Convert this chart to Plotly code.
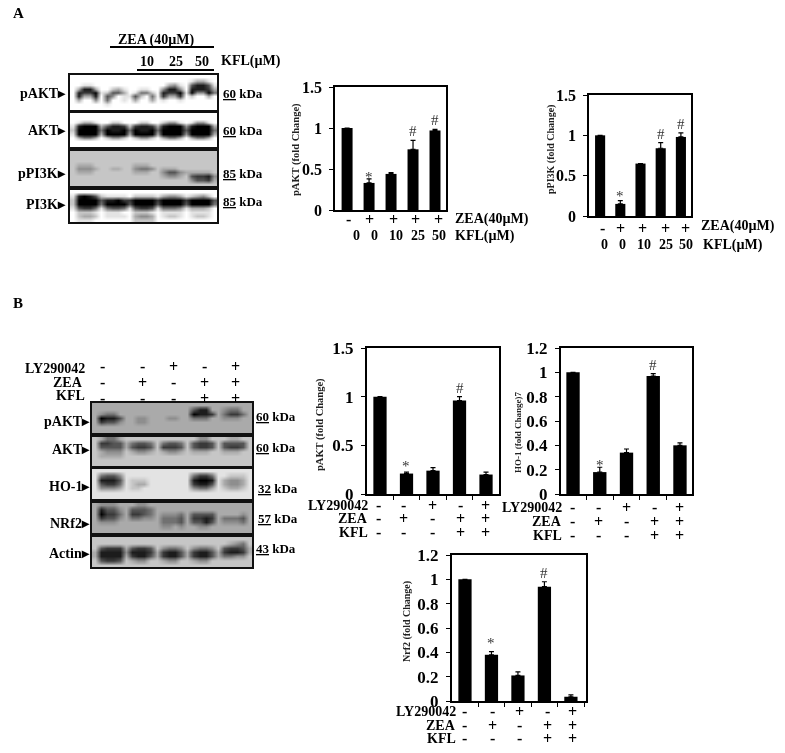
import plotly.graph_objects as go

W, H = 785, 753
SERIF = "Liberation Serif"

# ---------- chart data ----------
A1_VALUES = [1.0, 0.33, 0.44, 0.74, 0.97]
A1_ERRORS = [0.0, 0.05, 0.015, 0.11, 0.015]
A2_VALUES = [1.0, 0.15, 0.65, 0.84, 0.98]
A2_ERRORS = [0.0, 0.04, 0.0, 0.07, 0.05]
B1_VALUES = [1.0, 0.21, 0.24, 0.96, 0.20]
B1_ERRORS = [0.0, 0.015, 0.03, 0.04, 0.025]
B2_VALUES = [1.0, 0.18, 0.34, 0.97, 0.40]
B2_ERRORS = [0.0, 0.04, 0.03, 0.02, 0.02]
B3_VALUES = [1.0, 0.38, 0.21, 0.94, 0.035]
B3_ERRORS = [0.0, 0.025, 0.03, 0.04, 0.015]
A1_MARKS = ["", "*", "", "#", "#"]
A2_MARKS = ["", "*", "", "#", "#"]
B1_MARKS = ["", "*", "", "#", ""]
B2_MARKS = ["", "*", "", "#", ""]
B3_MARKS = ["", "*", "", "#", ""]
CATEGORIES = [0, 1, 2, 3, 4]
TICKS_15 = [0, 0.5, 1, 1.5]
LABELS_15 = ["0", "0.5", "1", "1.5"]
TICKS_12 = [0, 0.2, 0.4, 0.6, 0.8, 1, 1.2]
LABELS_12 = ["0", "0.2", "0.4", "0.6", "0.8", "1", "1.2"]
ZEA_A = ["-", "+", "+", "+", "+"]
KFL_A = ["0", "0", "10", "25", "50"]
LY_B = ["-", "-", "+", "-", "+"]
ZEA_B = ["-", "+", "-", "+", "+"]
KFL_B = ["-", "-", "-", "+", "+"]

# ---------- blot densities, one digit (0-9) per cell, top row first ----------
BLOT_A_PAKT = [
 "0 0000 0 0000 0 0000 0 0000 0 0000 0",
 "0 0000 0 0000 0 0000 0 0000 0 1331 0",
 "0 0110 0 0000 0 0000 0 0341 0 6886 1",
 "0 3883 0 0231 0 0110 0 4884 0 8887 3",
 "0 8779 1 2663 0 1552 0 8779 1 9449 5",
 "0 8338 0 6401 1 6205 0 7337 0 2003 0",
 "0 3004 0 5001 0 3003 0 1001 0 0000 0",
 "0 0000 0 1000 0 0000 0 0000 0 0000 0",
 "0 0000 0 0000 0 0000 0 0000 0 0000 0"]
BLOT_A_AKT = [
 "0 0000 0 0000 0 0000 0 0000 0 0000 0",
 "0 0000 0 0000 0 0000 0 0000 0 0000 0",
 "0 1331 0 0220 0 0220 0 2441 0 1441 0",
 "1 8999 3 6887 2 7887 3 8999 4 8999 3",
 "2 9999 5 9889 5 9889 5 9999 6 9999 5",
 "1 9999 3 9999 3 9999 3 9999 4 9999 3",
 "0 3553 0 2442 0 2442 0 3553 0 3553 0",
 "0 0000 0 0000 0 0000 0 0000 0 0000 0",
 "0 0000 0 0000 0 0000 0 0000 0 0000 0"]
BLOT_A_PPI3K = [
 "2 2222 2 2222 2 2222 2 2222 2 2222 2",
 "2 2222 2 2222 2 2222 2 2222 2 2222 2",
 "2 2222 2 2222 2 2222 2 2222 2 2222 2",
 "2 3332 2 2222 2 3332 2 2222 2 2222 2",
 "2 4443 2 2332 2 4554 2 3332 2 2222 2",
 "2 3332 2 2222 2 3332 2 4664 3 3333 2",
 "2 2222 2 2222 2 2222 2 3443 2 6778 4",
 "2 2222 2 2222 2 2222 2 2222 2 4667 3",
 "2 2222 2 2222 2 2222 2 2222 2 2222 2"]
BLOT_A_PI3K = [
 "0 0000 0 0000 0 0000 0 0000 0 0000 0",
 "1 8986 2 1111 0 2222 1 3443 1 2342 0",
 "2 9999 6 8897 7 9999 7 9999 7 9999 6",
 "2 9999 5 9999 6 9999 6 9999 6 9999 5",
 "1 6775 1 5665 1 6776 1 5554 1 3332 0",
 "0 2221 0 1110 0 2221 0 1111 0 1111 0",
 "0 2332 0 1111 0 3443 0 1221 0 1221 0",
 "0 1110 0 0000 0 2222 0 0000 0 0000 0"]
BLOT_B_PAKT = [
 "3 3333 3 3333 3 3333 3 3333 3 3333 3",
 "3 3333 3 3333 3 3333 3 6883 3 4553 3",
 "3 4553 3 3333 3 3333 3 9887 3 5775 3",
 "3 9886 3 3443 3 3443 3 5553 3 4443 3",
 "3 7664 3 3443 3 3333 3 3333 3 3333 3",
 "3 3333 3 3333 3 3333 3 3333 3 3333 3",
 "3 3333 3 3333 3 3333 3 3333 3 3333 3"]
BLOT_B_AKT = [
 "2 3553 2 2222 2 2222 2 2442 2 2332 2",
 "2 7766 3 5665 2 5665 2 6776 2 6666 2",
 "2 6666 3 6776 2 7776 2 6776 2 6776 2",
 "2 3444 2 3443 2 3443 2 3332 2 3332 2",
 "2 3333 2 2222 2 2222 2 2222 2 2222 2",
 "2 2222 2 2222 2 2222 2 2222 2 2222 2",
 "2 2222 2 2222 2 2222 2 2222 2 2222 2"]
BLOT_B_HO1 = [
 "1 1111 1 1111 1 1111 1 1111 1 1111 1",
 "1 5664 1 1111 1 1111 1 5775 1 1222 1",
 "1 8886 1 2221 1 1111 1 8998 1 3443 1",
 "1 6775 1 2331 1 1111 1 7886 1 3443 1",
 "1 4443 1 2211 1 1111 1 4553 1 2332 1",
 "1 1111 1 1111 1 1111 1 1111 1 1111 1",
 "1 1111 1 1111 1 1111 1 1111 1 1111 1"]
BLOT_B_NRF2 = [
 "3 4443 3 3443 3 3333 3 3333 3 3333 3",
 "3 8664 3 6665 3 3333 3 3333 3 3333 3",
 "3 9775 3 7765 3 4445 3 6666 3 3334 3",
 "3 7664 3 5544 3 5556 3 7787 3 5556 3",
 "3 4443 3 3333 3 5556 3 6686 3 4445 3",
 "3 3333 3 3333 3 4434 3 3443 3 3333 3",
 "3 3333 3 3333 3 3333 3 3333 3 3333 3"]
BLOT_B_ACTIN = [
 "2 2222 2 2222 2 2222 2 2222 2 2222 2",
 "2 2222 2 2222 2 2222 2 2222 2 2345 2",
 "2 6777 3 6776 2 4554 2 4554 2 6776 3",
 "3 8888 4 8887 3 7886 3 7886 3 7887 3",
 "3 8888 3 7886 3 7886 3 7886 3 5544 2",
 "2 6776 2 3442 2 3442 2 3442 2 2222 2",
 "2 2222 2 2222 2 2222 2 2222 2 2222 2"]

# ---------- helpers ----------
fig = go.Figure()
annotations, shapes, layout = [], [], {}
axis_no = 0


def place(x0, y0, x1, y1):
    global axis_no
    axis_no += 1
    return axis_no, [x0 / W, x1 / W], [1 - y1 / H, 1 - y0 / H]


def px_text(x, y, s, size=14, anchor="left", color="black", bold=True, angle=0):
    annotations.append(dict(
        x=x / W, y=1 - y / H, xref="paper", yref="paper", text=f"<b>{s}</b>" if bold else s,
        showarrow=False, xanchor=anchor, yanchor="middle", textangle=angle,
        font=dict(family=SERIF, size=size, color=color), borderpad=0))


def rule(x0, x1, y):
    shapes.append(dict(type="line", xref="paper", yref="paper", x0=x0 / W, x1=x1 / W,
                       y0=1 - y / H, y1=1 - y / H, line=dict(color="black", width=2)))


def bar_chart(rect, values, errors, marks, ticks, tick_labels, y_max, x_range,
              tick_size, boundary_ticks, star_shift=0, mark_size=15):
    n, xd, yd = place(*rect)
    fig.add_trace(go.Bar(
        x=CATEGORIES, y=values, width=0.5, marker=dict(color="black", line=dict(width=0)),
        error_y=dict(type="data", symmetric=False, array=errors, arrayminus=[0] * 5,
                     color="black", thickness=1.2, width=2.5),
        xaxis=f"x{n}", yaxis=f"y{n}", showlegend=False))
    xax = dict(domain=xd, anchor=f"y{n}", range=x_range, showline=True, mirror=True,
               linecolor="black", linewidth=1.5, showgrid=False, zeroline=False,
               showticklabels=False)
    if boundary_ticks:
        xax.update(tickmode="array", tickvals=[-0.5, 0.5, 1.5, 2.5, 3.5, 4.5],
                   ticks="outside", ticklen=4, tickcolor="black", tickwidth=1.2)
    else:
        xax.update(ticks="")
    layout[f"xaxis{n}"] = xax
    layout[f"yaxis{n}"] = dict(
        domain=yd, anchor=f"x{n}", range=[0, y_max], showline=True, mirror=True,
        linecolor="black", linewidth=1.5, showgrid=False, zeroline=False,
        tickmode="array", tickvals=ticks, ticktext=[f"<b>{t}</b>\u00a0" for t in tick_labels],
        ticks="outside", ticklen=4, tickcolor="black", tickwidth=1.2,
        tickfont=dict(family=SERIF, size=tick_size, color="black"))
    for c, v, e, m in zip(CATEGORIES, values, errors, marks):
        if m:
            annotations.append(dict(
                x=c, y=v + e, xref=f"x{n}", yref=f"y{n}", text=m, showarrow=False,
                xanchor="center", yanchor="bottom", borderpad=0,
                yshift=star_shift if m == "*" else 0,
                font=dict(family=SERIF, size=mark_size, color="#333333")))


def blot(rect, rows):
    n, xd, yd = place(*rect)
    z = [[int(ch) for ch in r.replace(" ", "")] for r in rows]
    fig.add_trace(go.Heatmap(
        z=z, zmin=0, zmax=9, zsmooth="best", showscale=False, hoverinfo="skip",
        colorscale=[[0, "#ffffff"], [1, "#000000"]], xaxis=f"x{n}", yaxis=f"y{n}"))
    common = dict(showline=True, mirror=True, linecolor="#111111", linewidth=1.5,
                  showgrid=False, zeroline=False, showticklabels=False, ticks="")
    layout[f"xaxis{n}"] = dict(domain=xd, anchor=f"y{n}", range=[-0.5, len(z[0]) - 0.5], **common)
    layout[f"yaxis{n}"] = dict(domain=yd, anchor=f"x{n}", range=[len(z) - 0.5, -0.5], **common)


def sign_row(xs, y, signs, size=16):
    for x, s in zip(xs, signs):
        px_text(x, y, s, size=size, anchor="center")


# ---------- bar charts ----------
bar_chart((335, 87, 446, 210), A1_VALUES, A1_ERRORS, A1_MARKS, TICKS_15, LABELS_15, 1.5,
          [-0.55, 4.5], 16, False, star_shift=-7)
bar_chart((589, 95, 691, 216), A2_VALUES, A2_ERRORS, A2_MARKS, TICKS_15, LABELS_15, 1.5,
          [-0.55, 4.5], 16, False, star_shift=-4)
bar_chart((367, 348, 499, 494), B1_VALUES, B1_ERRORS, B1_MARKS, TICKS_15, LABELS_15, 1.5,
          [-0.49, 4.49], 17, True, star_shift=-3)
bar_chart((561, 348, 692, 494), B2_VALUES, B2_ERRORS, B2_MARKS, TICKS_12, LABELS_12, 1.2,
          [-0.45, 4.45], 17, True, star_shift=-7)
bar_chart((452, 555, 586, 701), B3_VALUES, B3_ERRORS, B3_MARKS, TICKS_12, LABELS_12, 1.2,
          [-0.49, 4.57], 17, True)

# ---------- blots ----------
blot((70, 75, 217, 110), BLOT_A_PAKT)
blot((70, 113, 217, 147), BLOT_A_AKT)
blot((70, 151, 217, 186), BLOT_A_PPI3K)
blot((70, 190, 217, 222), BLOT_A_PI3K)
blot((92, 403, 252, 433), BLOT_B_PAKT)
blot((92, 437, 252, 466), BLOT_B_AKT)
blot((92, 469, 252, 499), BLOT_B_HO1)
blot((92, 503, 252, 533), BLOT_B_NRF2)
blot((92, 537, 252, 567), BLOT_B_ACTIN)

# ---------- panel letters and blot labels ----------
px_text(12, 13, "A", size=15)
px_text(12, 303, "B", size=15)

px_text(156, 40, "ZEA (40µM)", anchor="center")
rule(110, 214, 47)
for x, s in zip([147, 176, 202], ["10", "25", "50"]):
    px_text(x, 61, s, anchor="center")
px_text(220, 61, "KFL(µM)")
rule(137, 214, 70)

for y, s in [(93, "pAKT▸"), (130, "AKT▸"), (173, "pPI3K▸"), (204, "PI3K▸")]:
    px_text(67, y, s, anchor="right")
for y, s in [(93, "60"), (130, "60"), (173, "85"), (201, "85")]:
    px_text(222, y, f"<u>{s}</u> kDa", size=13)

px_text(86, 368, "LY290042", anchor="right")
px_text(84, 382, "ZEA", anchor="right")
px_text(86, 395, "KFL", anchor="right")
BLOT_COLS = [102, 142, 173, 204, 235]
sign_row(BLOT_COLS, 366, LY_B)
sign_row(BLOT_COLS, 382, ZEA_B)
sign_row(BLOT_COLS, 398, KFL_B)

for y, s in [(422, "pAKT▸"), (449, "AKT▸"), (486, "HO-1▸"), (523, "NRf2▸"), (553, "Actin▸")]:
    px_text(91, y, s, anchor="right")
for x, y, s in [(255, 417, "60"), (255, 447, "60"), (257, 488, "32"), (257, 518, "57"), (255, 548, "43")]:
    px_text(x, y, f"<u>{s}</u> kDa", size=13)

# ---------- chart captions ----------
px_text(296, 150, "pAKT (fold Change)", size=10.5, anchor="center", angle=-90, color="#222222")
px_text(551, 150, "pPI3K (fold Change)", size=10, anchor="center", angle=-90, color="#222222")
px_text(320, 425, "pAKT (fold Change)", size=10.5, anchor="center", angle=-90, color="#222222")
px_text(518, 432, "HO-1 (fold Change)7", size=9, anchor="center", angle=-90, color="#222222")
px_text(407, 622, "Nrf2 (fold Change)", size=10, anchor="center", angle=-90, color="#222222")

sign_row([348, 369, 393, 415, 438], 220, ZEA_A)
sign_row([356, 374, 396, 418, 439], 236, KFL_A, size=14)
px_text(454, 219, "ZEA(40µM)")
px_text(454, 236, "KFL(µM)")

sign_row([602, 620, 642, 665, 685], 229, ZEA_A)
sign_row([604, 622, 644, 666, 686], 245, KFL_A, size=14)
px_text(700, 226, "ZEA(40µM)")
px_text(702, 245, "KFL(µM)")

for (right, ys, cols) in [
    (369, (506, 518, 532), [378, 403, 432, 460, 485]),
    (563, (508, 521, 535), [572, 598, 626, 654, 679]),
    (457, (711, 725, 738), [464, 492, 519, 547, 572]),
]:
    px_text(right, ys[0], "LY290042", anchor="right")
    px_text(right, ys[1], "ZEA", anchor="right")
    px_text(right, ys[2], "KFL", anchor="right")
    sign_row(cols, ys[0], LY_B)
    sign_row(cols, ys[1], ZEA_B)
    sign_row(cols, ys[2], KFL_B)

fig.update_layout(width=W, height=H, margin=dict(l=0, r=0, t=0, b=0, pad=0, autoexpand=False),
                  autosize=False, paper_bgcolor="white", plot_bgcolor="white", showlegend=False,
                  bargap=0.5, annotations=annotations, shapes=shapes, **layout)
fig.write_html("out.html", config=dict(displayModeBar=False),
               post_script="document.body.style.margin='0';"
                           "document.querySelector('.svg-container').style.filter='blur(0.5px)';")
